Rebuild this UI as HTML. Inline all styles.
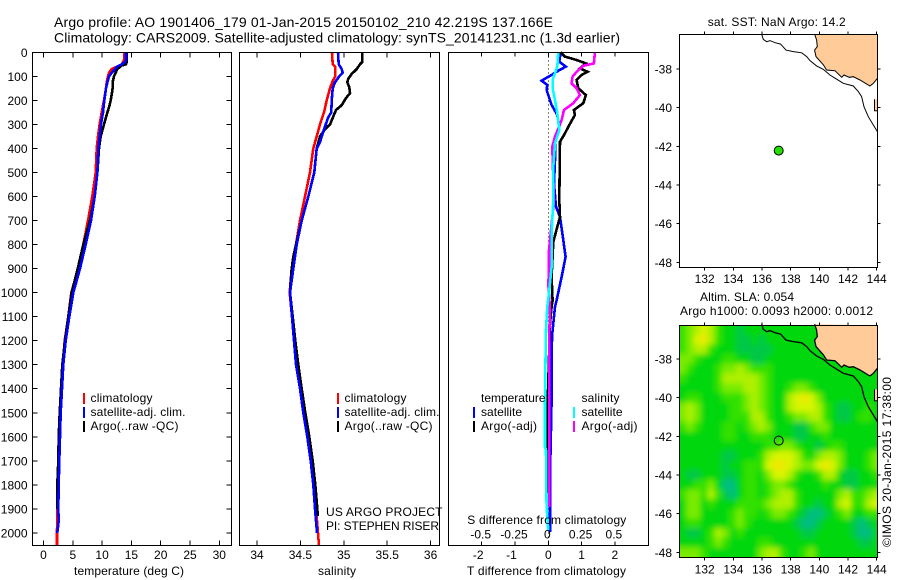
<!DOCTYPE html>
<html lang="en">
<head>
<meta charset="utf-8">
<title>Argo profile 1901406_179</title>
<style>
html,body{margin:0;padding:0;background:#fff;}
svg{display:block;}
text{font-family:"Liberation Sans",sans-serif;font-size:12px;fill:#000;}
.t14{font-size:14px;}
</style>
</head>
<body>
<svg id="chart" xmlns="http://www.w3.org/2000/svg" width="900" height="580" viewBox="0 0 900 580">
<defs>
<clipPath id="clip-sla"><rect x="679.5" y="325" width="198" height="232"/></clipPath>
<filter id="smooth" filterUnits="userSpaceOnUse" x="660" y="305" width="240" height="270"><feGaussianBlur stdDeviation="3"/></filter>
</defs>
<rect x="0" y="0" width="900" height="580" fill="#fff"/>

<text class="t14" x="54" y="27" textLength="499">Argo profile: AO 1901406_179 01-Jan-2015 20150102_210 42.219S 137.166E</text>
<text class="t14" x="54" y="42.5" textLength="566">Climatology: CARS2009. Satellite-adjusted climatology: synTS_20141231.nc (1.3d earlier)</text>

<g id="heat" clip-path="url(#clip-sla)"><g id="heat-cells" filter="url(#smooth)"></g></g>
<g id="marks"></g>

<g>
<rect x="83" y="393" width="2" height="11" fill="#f00"/>
<rect x="83" y="407" width="2" height="11" fill="#00f"/>
<rect x="83" y="421" width="2" height="11" fill="#000"/>
<text x="90.5" y="402" textLength="62">climatology</text>
<text x="90.5" y="416" textLength="95">satellite-adj. clim.</text>
<text x="90.5" y="430" textLength="88">Argo(..raw -QC)</text>
</g>
<g>
<rect x="337" y="393" width="2" height="11" fill="#f00"/>
<rect x="337" y="407" width="2" height="11" fill="#00f"/>
<rect x="337" y="421" width="2" height="11" fill="#000"/>
<text x="344.5" y="402" textLength="62">climatology</text>
<text x="344.5" y="416" textLength="95">satellite-adj. clim.</text>
<text x="344.5" y="430" textLength="88">Argo(..raw -QC)</text>
</g>
<g>
<text x="481" y="402" textLength="64.5">temperature</text>
<rect x="473" y="407" width="2" height="11" fill="#00f"/>
<rect x="473" y="421" width="2" height="11" fill="#000"/>
<text x="481" y="416" textLength="41">satellite</text>
<text x="481" y="430" textLength="56">Argo(-adj)</text>
<text x="581.5" y="402" textLength="38">salinity</text>
<rect x="573" y="407" width="2" height="11" fill="#0ff"/>
<rect x="573" y="421" width="2" height="11" fill="#f0f"/>
<text x="581.5" y="416" textLength="41">satellite</text>
<text x="581.5" y="430" textLength="56">Argo(-adj)</text>
</g>

<text x="326" y="516" textLength="116.5">US ARGO PROJECT</text>
<text x="326" y="530" textLength="113">PI: STEPHEN RISER</text>
<text x="74" y="575" textLength="110">temperature (deg C)</text>
<text x="318" y="575" textLength="38">salinity</text>
<text x="467.3" y="524" textLength="159">S difference from climatology</text>
<text x="467" y="575" textLength="159">T difference from climatology</text>
<text x="707.7" y="26" textLength="138">sat. SST: NaN Argo: 14.2</text>
<text x="700" y="301" textLength="94">Altim. SLA: 0.054</text>
<text x="680" y="315" textLength="193">Argo h1000: 0.0093 h2000: 0.0012</text>
<text transform="translate(891 547) rotate(-90)" textLength="170">©IMOS 20-Jan-2015 17:38:00</text>
</svg>

<script>
/* axis tick values */
const depthTicks = [0,100,200,300,400,500,600,700,800,900,1000,1100,1200,1300,1400,1500,1600,1700,1800,1900,2000];
const tempTicks = [0,5,10,15,20,25,30];
const salTicks = [34,34.5,35,35.5,36];
const tDiffTicks = [-2,-1,0,1,2];
const sDiffTicks = [-0.5,-0.25,0,0.25,0.5];
const lonTicks = [132,134,136,138,140,142,144];
const latTicks = [-38,-40,-42,-44,-46,-48];

/* temperature profiles */
const tempClimDepth = [0,30,50,60,70,85,100,125,150,200,250,300,350,400,500,600,700,800,900,1000,1100,1200,1300,1400,1500,1600,1700,1800,1900,2000,2054];
const tempClim = [13.8,13.75,13.34,12.5,11.63,11.18,11.0,10.78,10.67,10.32,9.93,9.58,9.3,9.07,8.9,8.33,7.6,6.8,6.0,4.75,4.24,3.61,3.27,2.99,2.76,2.59,2.53,2.42,2.36,2.3,2.3];
const tempArgoDepth = [0,40,50,55,70,100,125,150,175,200,225,250,300,350,400,500,600,700,800,900,1000,1100,1200,1300,1400,1500,1600,1700,1800,1900];
const tempArgo = [14.19,14.19,14.08,13.34,12.6,12.03,11.8,11.8,11.63,11.46,11.23,10.9,10.32,9.76,9.47,9.19,8.73,7.93,6.8,5.83,4.8,4.24,3.67,3.21,2.99,2.76,2.59,2.53,2.36,2.36];
const tempSatDepth = [0,30,40,50,60,70,85,100,125,150,200,250,300,350,400,500,600,700,800,900,1000,1100,1200,1300,1400,1500,1600,1700,1800,1900,1950,2000];
const tempSat = [14.08,14.08,13.9,13.34,12.5,12.2,11.63,11.18,10.9,10.67,10.38,10.15,9.8,9.58,9.36,9.19,8.73,8.1,7.2,6.23,5.09,4.41,3.78,3.38,3.16,2.93,2.82,2.7,2.59,2.53,2.59,2.36];

/* salinity profiles */
const salClimDepth = [0,50,60,100,120,150,200,250,300,350,400,500,600,700,800,900,1000,1100,1200,1300,1400,1500,1600,1700,1800,1900,2000,2054];
const salClim = [34.864,34.872,34.902,34.902,34.872,34.841,34.803,34.772,34.726,34.688,34.649,34.611,34.553,34.495,34.449,34.4,34.377,34.403,34.426,34.449,34.495,34.541,34.591,34.622,34.649,34.68,34.703,34.714];
const salArgoDepth = [0,40,50,70,90,110,125,145,170,190,220,240,300,320,350,400,500,600,700,800,850,900,1000,1100,1200,1300,1400,1500,1600,1700,1800,1900,1930];
const salArgo = [35.213,35.213,35.187,35.149,35.091,35.052,35.04,35.063,35.071,35.025,34.976,34.91,34.841,34.783,34.726,34.688,34.66,34.591,34.515,34.449,34.418,34.4,34.38,34.411,34.441,34.476,34.515,34.556,34.603,34.642,34.672,34.695,34.7];
const salSatDepth = [0,50,70,85,100,125,150,200,250,270,300,350,375,400,500,600,700,800,900,1000,1100,1200,1300,1400,1500,1600,1700,1800,1900,2000];
const salSat = [34.933,34.941,34.976,34.987,34.948,34.899,34.872,34.861,34.856,34.821,34.791,34.745,34.726,34.688,34.66,34.591,34.515,34.457,34.418,34.38,34.403,34.426,34.449,34.495,34.533,34.579,34.619,34.649,34.668,34.691];

/* difference profiles */
const tDiffSatDepth = [0,39,60,74,94,118,136,157,178,219,261,317,379,449,546,643,685,782,851,935,1032,1059,1170,1240,1448,1767,1996];
const tDiffSat = [.37,.33,.53,.33,.10,-.20,-.03,-.05,0,.10,.27,.33,.20,.20,.17,.23,.35,.45,.52,.40,.25,.20,.12,.10,.10,.05,.05];
const tDiffArgoDepth = [0,18,32,46,67,81,94,115,150,178,212,240,261,310,338,372,615,685,726,789,935,1032,1059,1129,1510,1850];
const tDiffArgo = [.37,.50,.85,1.13,.95,1.18,1.0,.85,.90,1.13,1.05,.77,.80,.60,.50,.35,.33,.35,.27,.15,.10,.13,.10,.05,-.03,-.03];
const sDiffArgoDepth = [0,46,56,81,101,129,150,178,212,240,282,317,351,393,615,782,824,914,962,1073,1170,1892];
const sDiffArgo = [.35,.3425,.2625,.2125,.1825,.175,.2125,.2375,.1875,.1175,.10,.075,.05,.03,.0425,.0125,.005,.005,0,.0125,.0075,.0075];
const sDiffSatDepth = [0,60,115,150,199,254,324,379,476,615,754,893,990,1059,1156,1337,1475,1642,1656,1892,1989];
const sDiffSat = [.075,.0675,.0325,.0325,.05,.0675,.0825,.05,.0375,.0375,.025,.025,.0075,-.0075,-.0175,-.0225,-.025,-.025,-.0175,-.0125,0];

/* map geography */
const coastLon = [139.67,139.81,139.86,139.67,139.77,140.28,140.51,141.09,141.56,141.72,142.09,142.37,142.84,143.53,143.77,144.05];
const coastLat = [-36.2,-36.5,-36.84,-37.02,-37.36,-37.79,-38.05,-38.09,-38.43,-38.31,-38.43,-38.4,-38.57,-38.88,-38.74,-38.48];
const isobathLon = [135.98,136.09,136.33,136.56,136.91,137.3,137.67,138.19,138.77,139.12,139.35,139.81,140.28,140.74,141.21,141.67,142.37,142.72,142.95,143.12,143.42,143.77,144.05];
const isobathLat = [-36.2,-36.47,-36.59,-36.53,-36.64,-36.71,-37.02,-37.1,-37.16,-37.36,-37.57,-37.84,-38.02,-38.31,-38.53,-38.74,-38.88,-39.17,-39.43,-39.95,-40.47,-40.9,-41.24];
const islandLon = [144.05,143.85,143.85,144.05];
const islandLat = [-39.57,-39.57,-40.16,-40.16];
const argoLon = 137.166;
const argoLat = -42.219;

/* SLA field: 28 columns x 24 rows, half-degree cells, colour level 0 (low) to 7 (high) */
const slaGrid = [
[3,4,5,6,5,3,2,2,1,2,2,2,2,2,2,2,2,2,2,2,2,2,2,2,2,2,2,2],
[3,4,6,7,5,3,2,2,1,1,2,1,2,2,2,2,2,2,2,2,2,2,2,2,2,2,2,2],
[3,4,5,5,3,2,2,2,1,1,1,1,1,2,2,2,2,2,2,2,2,2,2,2,2,2,2,2],
[4,4,3,2,2,2,3,3,2,2,1,1,2,2,2,2,2,2,2,2,2,2,2,2,2,2,2,2],
[4,3,2,2,2,3,4,4,5,4,3,3,3,2,2,2,2,2,2,2,2,2,2,2,2,2,2,2],
[3,2,2,2,2,3,5,5,5,5,5,4,3,2,2,2,2,2,2,2,2,2,2,2,2,2,2,2],
[2,2,2,2,2,3,4,4,4,5,5,4,3,2,2,3,4,4,3,2,2,2,2,2,2,2,2,2],
[2,3,3,2,2,2,3,3,3,4,5,4,3,2,2,5,6,7,6,4,2,2,2,2,2,2,2,2],
[4,5,4,2,2,2,2,3,3,4,5,4,3,2,2,5,6,6,6,5,3,2,1,1,2,2,3,2],
[4,5,4,2,2,2,2,3,3,3,5,5,3,2,2,3,4,4,5,5,3,2,1,1,2,3,3,2],
[3,4,3,2,2,2,3,3,2,3,4,5,4,2,2,2,1,1,3,4,4,2,2,2,2,2,2,2],
[2,2,2,2,2,2,3,3,2,2,3,3,3,2,2,2,1,1,2,2,3,2,2,2,2,2,2,2],
[2,2,2,2,2,2,2,2,2,2,2,2,3,3,4,4,3,2,2,1,2,3,3,2,2,2,2,2],
[2,2,2,2,2,2,1,1,2,2,2,3,5,6,6,6,5,3,2,4,5,5,4,2,2,2,3,4],
[2,2,2,2,2,2,1,2,2,3,3,3,6,7,7,6,5,4,4,6,7,6,4,2,2,2,3,4],
[2,1,1,2,2,2,1,1,2,3,3,2,4,6,6,5,3,2,2,3,5,5,2,1,1,2,2,3],
[2,2,3,3,4,2,0,0,2,3,3,2,3,4,4,3,2,2,2,2,3,2,2,1,1,2,2,2],
[3,4,4,3,5,3,1,0,2,3,3,2,3,4,5,5,3,2,2,2,2,2,4,5,3,3,4,5],
[2,4,4,2,3,2,2,2,3,3,3,3,4,5,5,5,3,2,2,1,2,2,5,6,3,3,5,6],
[2,4,4,2,2,2,2,3,4,3,3,2,3,4,4,3,2,1,0,0,1,2,3,4,2,2,3,3],
[2,3,3,2,2,2,2,3,4,3,2,2,2,2,2,2,1,0,0,1,2,2,2,2,1,0,1,2],
[2,1,1,2,3,5,4,2,3,2,2,2,2,2,2,2,2,1,1,2,2,2,2,2,1,0,0,2],
[2,2,2,2,3,4,3,2,2,2,2,3,3,2,2,2,2,2,2,2,2,2,2,2,2,1,1,2],
[4,4,4,3,2,2,2,2,2,2,2,4,5,5,3,2,2,3,4,2,2,2,2,2,2,2,2,2]
];

const NS = 'http://www.w3.org/2000/svg';
const marks = document.getElementById('marks');
const heatCells = document.getElementById('heat-cells');

function make(tag, parent) {
  const el = document.createElementNS(NS, tag);
  parent.appendChild(el);
  return el;
}

/* axis functions */
const depthY = d => 52.3 + 0.2403 * d;
const tempX = v => 43.5 + 5.86 * v;
const salX = v => 257 + 86.8 * (v - 34);
const tDiffX = v => 548.3 + 33.3 * v;
const sDiffX = v => 548.3 + 133.2 * v;
const lonX = v => 704.7 + (v - 132) * 14.33;
const latY1 = v => 69 - (v + 38) * 19.33;
const latY2 = v => 359 - (v + 38) * 19.33;

function profile(depths, values, xFn, color, name) {
  const el = make('polyline', marks);
  el.setAttribute('points', values.map((v, i) => xFn(v).toFixed(1) + ',' + depthY(depths[i]).toFixed(1)).join(' '));
  el.setAttribute('fill', 'none');
  el.setAttribute('stroke', color);
  el.setAttribute('stroke-width', '2.6');
  el.setAttribute('shape-rendering', 'crispEdges');
  
  
}

function box(x, y, w, h, name) {
  const el = make('rect', marks);
  el.setAttribute('x', x);
  el.setAttribute('y', y);
  el.setAttribute('width', w);
  el.setAttribute('height', h);
  el.setAttribute('fill', 'none');
  el.setAttribute('stroke', '#000');
  el.setAttribute('stroke-width', '1');
  el.setAttribute('shape-rendering', 'crispEdges');
  
  
}

function tick(x1, y1, x2, y2) {
  const el = make('line', marks);
  el.setAttribute('x1', x1);
  el.setAttribute('y1', y1);
  el.setAttribute('x2', x2);
  el.setAttribute('y2', y2);
  el.setAttribute('stroke', '#000');
  el.setAttribute('stroke-width', '1');
  el.setAttribute('shape-rendering', 'crispEdges');
  
  
}

function label(x, y, str, anchor) {
  const el = make('text', marks);
  el.setAttribute('x', x);
  el.setAttribute('y', y);
  el.setAttribute('text-anchor', anchor);
  el.textContent = str;
  
  
}

function geoPath(lons, lats, yFn, close) {
  return 'M' + lons.map((v, i) => lonX(v).toFixed(1) + ' ' + yFn(lats[i]).toFixed(1)).join('L') + (close ? 'Z' : '');
}

function heatColor(level) {
  const r = [0, 0, 0, 50, 120, 175, 215, 238];
  const g = [190, 200, 215, 225, 235, 240, 245, 232];
  const b = [130, 70, 10, 0, 0, 0, 0, 0];
  return 'rgb(' + r[level] + ',' + g[level] + ',' + b[level] + ')';
}

/* SLA heatmap cells */
slaGrid.forEach((row, i) => {
  row.forEach((value, j) => {
    const x0 = lonX(130.2 + j * 0.5);
    const x1 = lonX(130.2 + (j + 1) * 0.5);
    const y0 = latY2(-36.25 - i * 0.5);
    const y1 = latY2(-36.25 - (i + 1) * 0.5);
    const left = j === 0 ? x0 - 10 : x0;
    const right = j === row.length - 1 ? x1 + 10 : x1;
    const top = i === 0 ? y0 - 10 : y0;
    const bottom = i === slaGrid.length - 1 ? y1 + 10 : y1;
    const cell = make('rect', heatCells);
    cell.setAttribute('x', left.toFixed(2));
    cell.setAttribute('y', top.toFixed(2));
    cell.setAttribute('width', (right - left + 0.4).toFixed(2));
    cell.setAttribute('height', (bottom - top + 0.4).toFixed(2));
    cell.setAttribute('fill', heatColor(value));
    
    
  });
});

/* zero line of the difference panel */
const zero = make('line', marks);
zero.setAttribute('x1', tDiffX(0));
zero.setAttribute('x2', tDiffX(0));
zero.setAttribute('y1', depthY(0));
zero.setAttribute('y2', depthY(2054));
zero.setAttribute('stroke', '#000');
zero.setAttribute('stroke-width', '1');
zero.setAttribute('stroke-dasharray', '1 3');
zero.setAttribute('shape-rendering', 'crispEdges');



/* profiles */
profile(tempClimDepth, tempClim, tempX, '#f00', 'temperature-climatology-line');
profile(tempArgoDepth, tempArgo, tempX, '#000', 'temperature-argo-line');
profile(tempSatDepth, tempSat, tempX, '#00f', 'temperature-satellite-line');
profile(salClimDepth, salClim, salX, '#f00', 'salinity-climatology-line');
profile(salArgoDepth, salArgo, salX, '#000', 'salinity-argo-line');
profile(salSatDepth, salSat, salX, '#00f', 'salinity-satellite-line');
profile(tDiffSatDepth, tDiffSat, tDiffX, '#00f', 't-difference-satellite-line');
profile(tDiffArgoDepth, tDiffArgo, tDiffX, '#000', 't-difference-argo-line');
profile(sDiffArgoDepth, sDiffArgo, sDiffX, '#f0f', 's-difference-argo-line');
profile(sDiffSatDepth, sDiffSat, sDiffX, '#0ff', 's-difference-satellite-line');

/* panel frames */
box(32.5, 52.5, 199, 493, 'temperature-panel-frame');
box(239.5, 52.5, 200, 493, 'salinity-panel-frame');
box(448.5, 52.5, 200, 493, 'difference-panel-frame');

/* temperature and depth axes */
depthTicks.forEach(d => {
  tick(32.5, depthY(d), 37.5, depthY(d));
  tick(226.5, depthY(d), 231.5, depthY(d));
  label(27.5, depthY(d) + 4.5, String(d), 'end');
});
tempTicks.forEach(v => {
  tick(tempX(v), 52.5, tempX(v), 57.5);
  tick(tempX(v), 540.5, tempX(v), 545.5);
  label(tempX(v), 559, String(v), 'middle');
});
salTicks.forEach(v => {
  tick(salX(v), 52.5, salX(v), 57.5);
  tick(salX(v), 540.5, salX(v), 545.5);
  label(salX(v), 559, String(v), 'middle');
});
tDiffTicks.forEach(v => {
  tick(tDiffX(v), 52.5, tDiffX(v), 56.5);
  tick(tDiffX(v), 541.5, tDiffX(v), 545.5);
  label(tDiffX(v) - (v < 0 ? 3.5 : 0), 559, String(v), 'middle');
});
sDiffTicks.forEach(v => {
  label(sDiffX(v) - 1, 538.5, String(v), 'middle');
});

/* map panels */
[[latY1, 34.5, 267.5, 283, 'sst'], [latY2, 325.5, 557.5, 573.3, 'sla']].forEach(cfg => {
  const yFn = cfg[0];
  const top = cfg[1];
  const bottom = cfg[2];
  const land = make('path', marks);
  land.setAttribute('d', geoPath(coastLon, coastLat, yFn, false) + 'L' + lonX(144.05).toFixed(1) + ' ' + top + 'Z');
  land.setAttribute('fill', '#ffcc99');
  land.setAttribute('stroke', 'none');
  
  
  const coast = make('path', marks);
  coast.setAttribute('d', geoPath(coastLon, coastLat, yFn, false));
  coast.setAttribute('fill', 'none');
  coast.setAttribute('stroke', '#000');
  coast.setAttribute('stroke-width', cfg[4] === 'sla' ? '1.3' : '1');
  
  
  const shelf = make('path', marks);
  shelf.setAttribute('d', geoPath(isobathLon, isobathLat, yFn, false));
  shelf.setAttribute('fill', 'none');
  shelf.setAttribute('stroke', '#000');
  shelf.setAttribute('stroke-width', cfg[4] === 'sla' ? '1.3' : '1');
  
  
  const island = make('path', marks);
  island.setAttribute('d', geoPath(islandLon, islandLat, yFn, true));
  island.setAttribute('fill', '#ffcc99');
  island.setAttribute('stroke', 'none');
  
  
  const islandEdge = make('path', marks);
  islandEdge.setAttribute('d', geoPath(islandLon.slice(1), islandLat.slice(1), yFn, false));
  islandEdge.setAttribute('fill', 'none');
  islandEdge.setAttribute('stroke', '#000');
  islandEdge.setAttribute('stroke-width', '1');
  
  
  box(679.5, top, 198, bottom - top, cfg[4] + '-map-frame');
  lonTicks.forEach(v => {
    tick(lonX(v), top - 3, lonX(v), top);
    tick(lonX(v), bottom, lonX(v), bottom + 3);
    label(lonX(v), cfg[3], String(v), 'middle');
  });
  latTicks.forEach(v => {
    tick(676.5, yFn(v), 679.5, yFn(v));
    tick(877.5, yFn(v), 880.5, yFn(v));
    label(672, yFn(v) + 4.5, String(v), 'end');
  });
});

/* Argo float position */
const dot = make('circle', marks);
dot.setAttribute('cx', lonX(argoLon).toFixed(1));
dot.setAttribute('cy', latY1(argoLat).toFixed(1));
dot.setAttribute('r', '4.5');
dot.setAttribute('fill', '#22e000');
dot.setAttribute('stroke', '#000');
dot.setAttribute('stroke-width', '1');


const ring = make('circle', marks);
ring.setAttribute('cx', lonX(argoLon).toFixed(1));
ring.setAttribute('cy', latY2(argoLat).toFixed(1));
ring.setAttribute('r', '4.5');
ring.setAttribute('fill', 'none');
ring.setAttribute('stroke', '#000');
ring.setAttribute('stroke-width', '1');


</script>
</body>
</html>
